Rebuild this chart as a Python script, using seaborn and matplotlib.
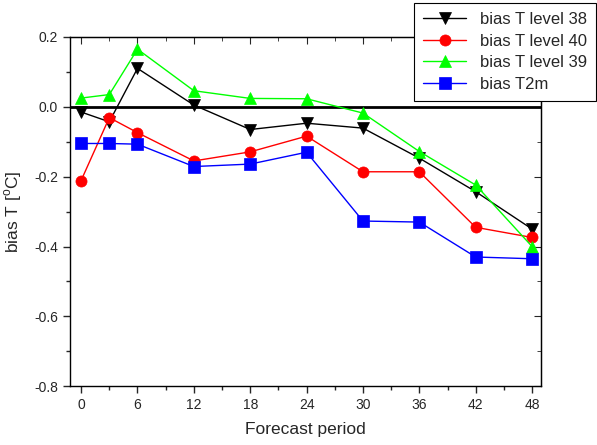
import pandas as pd
import numpy as np
import seaborn as sns
import matplotlib.pyplot as plt
from matplotlib.ticker import MultipleLocator

# forecast hours and bias values
hours = [0, 3, 6, 12, 18, 24, 30, 36, 42, 48]
level38 = [-0.015, -0.043, 0.110, 0.005, -0.065, -0.047, -0.061, -0.147, -0.243, -0.350]
level40 = [-0.211, -0.031, -0.074, -0.155, -0.129, -0.084, -0.186, -0.186, -0.345, -0.374]
level39 = [0.025, 0.035, 0.165, 0.046, 0.024, 0.023, -0.018, -0.128, -0.224, -0.400]
t2m = [-0.105, -0.105, -0.107, -0.171, -0.164, -0.130, -0.327, -0.330, -0.430, -0.435]

names = ['bias T level 38', 'bias T level 40', 'bias T level 39', 'bias T2m']
colors = ['black', '#FF0000', '#00FF00', '#0000FF']
markers = ['v', 'o', '^', 's']

df = pd.DataFrame({
    'hour': hours * 4,
    'bias': level38 + level40 + level39 + t2m,
    'series': np.repeat(names, len(hours)),
})

sns.set_style('ticks')
plt.rcParams['font.family'] = ['Liberation Sans', 'DejaVu Sans']
plt.rcParams['mathtext.fontset'] = 'custom'
plt.rcParams['mathtext.rm'] = 'Liberation Sans'

fig = plt.figure(figsize=(5.97, 4.45), dpi=100)
ax = fig.add_axes([0.117, 0.132, 0.790, 0.785])

sns.lineplot(data=df, x='hour', y='bias', hue='series', style='series',
             hue_order=names, style_order=names, palette=colors,
             markers=markers, dashes=False, markersize=8, linewidth=1,
             legend=False, ax=ax)

for ln, c in zip(ax.lines[:4], colors):
    ln.set_markeredgecolor(c)
    ln.set_markerfacecolor(c)
    ln.set_markeredgewidth(0.5)

handles = list(ax.lines[:4])
ax.axhline(0, color='black', linewidth=2, zorder=1)

ax.set_xlim(-1.2, 49)
ax.set_ylim(-0.8, 0.2)
ax.xaxis.set_major_locator(MultipleLocator(6))
ax.xaxis.set_minor_locator(MultipleLocator(3))
ax.yaxis.set_major_locator(MultipleLocator(0.2))
ax.yaxis.set_minor_locator(MultipleLocator(0.1))
ax.yaxis.set_major_formatter(plt.FuncFormatter(lambda v, p: f'{v:.1f}'))
ax.tick_params(which='major', direction='out', length=5, width=1, labelsize=10)
ax.tick_params(which='minor', direction='out', length=3, width=1)

# mirrored axes on top and right with inward ticks
top = ax.secondary_xaxis('top')
top.xaxis.set_major_locator(MultipleLocator(6))
top.xaxis.set_minor_locator(MultipleLocator(3))
top.tick_params(which='major', direction='in', length=5, labeltop=False)
top.tick_params(which='minor', direction='in', length=3)
right = ax.secondary_yaxis('right')
right.yaxis.set_major_locator(MultipleLocator(0.2))
right.yaxis.set_minor_locator(MultipleLocator(0.1))
right.tick_params(which='major', direction='in', length=5, labelright=False)
right.tick_params(which='minor', direction='in', length=3)

for s in ax.spines.values():
    s.set_linewidth(1)
    s.set_color('black')

ax.set_xlabel('Forecast period', fontsize=12.5, labelpad=7)
ax.set_ylabel(r'bias T [$^{\mathrm{o}}$C]', fontsize=12.5, labelpad=7)

leg = ax.legend(handles, names, loc='upper right', bbox_to_anchor=(0.998, 0.994),
                bbox_transform=fig.transFigure, borderaxespad=0, fontsize=12,
                frameon=True, fancybox=False, framealpha=1, edgecolor='black',
                handlelength=2.6, labelspacing=0.4, borderpad=0.55)
leg.get_frame().set_linewidth(0.8)
leg.set_zorder(10)

fig.savefig('out.png', dpi=100)
